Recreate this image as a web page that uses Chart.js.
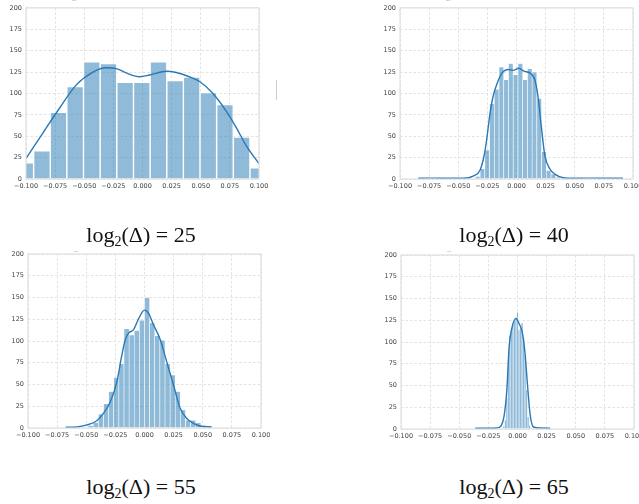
<!DOCTYPE html>
<html>
<head>
<meta charset="utf-8">
<script src="https://cdn.jsdelivr.net/npm/chart.js@4.4.1/dist/chart.umd.min.js"></script>
<style>
  body { margin: 0; width: 639px; height: 504px; background: #fff; overflow: hidden; position: relative; }
  canvas { position: absolute; }
  .lbl { position: absolute; width: 240px; text-align: center; font-family: "Liberation Serif", "DejaVu Serif", serif; font-size: 22px; color: #111; white-space: nowrap; }
  .lbl sub { font-size: 14px; vertical-align: -4px; line-height: 0; }
  .dash { position: absolute; font: 6px "DejaVu Sans"; color: #999; }
  .stub { position: absolute; left: 276px; top: 80px; width: 1px; height: 20px; background: #ccc; }
</style>
</head>
<body>
<canvas id="c25"></canvas>
<canvas id="c40"></canvas>
<canvas id="c55"></canvas>
<canvas id="c65"></canvas>
<div class="stub"></div>
<div class="dash" style="left:72px; top:-4px;">--</div>
<div class="dash" style="left:446px; top:-4px;">--</div>
<div class="dash" style="left:74px; top:247px;">--</div>
<div class="dash" style="left:447px; top:247px;">--</div>
<div class="lbl" id="l25" style="left:21px; top:222px;">log<sub>2</sub>(Δ) = 25</div>
<div class="lbl" id="l40" style="left:394px; top:222px;">log<sub>2</sub>(Δ) = 40</div>
<div class="lbl" id="l55" style="left:21px; top:474px;">log<sub>2</sub>(Δ) = 55</div>
<div class="lbl" id="l65" style="left:394px; top:474px;">log<sub>2</sub>(Δ) = 65</div>
<script>
// tick labels shared by all four panels
const xTicks = [-0.1, -0.075, -0.05, -0.025, 0, 0.025, 0.05, 0.075, 0.1];
const yTicks = [0, 25, 50, 75, 100, 125, 150, 175, 200];

// log2(delta) = 25
const bins25 = [-0.1006, -0.0863, -0.0721, -0.0578, -0.0435, -0.0292, -0.0149, -0.0006, 0.0137, 0.0280, 0.0422, 0.0565, 0.0708, 0.0851, 0.0994];
const counts25 = [19, 33, 78, 108, 137, 135, 113, 113, 137, 115, 119, 101, 87, 49, 13];
const kdeX25 = [-0.1, -0.0854, -0.0711, -0.0568, -0.0425, -0.031, -0.0225, -0.014, -0.0024, 0.006, 0.0205, 0.029, 0.040, 0.049, 0.0605, 0.072, 0.0805, 0.089, 0.1];
const kdeY25 = [24, 54, 83, 110, 125, 130, 129, 124, 119.5, 121.5, 126, 124.5, 119.5, 114, 100, 79, 60, 39, 18];

// log2(delta) = 40
const bins40 = [-0.0333, -0.0292, -0.0252, -0.0211, -0.0170, -0.0130, -0.0089, -0.0049, -0.0008, 0.0033, 0.0073, 0.0114, 0.0154, 0.0195, 0.0236, 0.0276, 0.0317, 0.0357];
const counts40 = [3, 12, 34, 88, 105, 131, 116, 135, 122, 135, 116, 129, 125, 94, 32, 10, 6, 2];
const kdeX40 = [-0.0843, -0.0743, -0.06, -0.0457, -0.0371, -0.0314, -0.028, -0.0257, -0.0229, -0.02, -0.0171, -0.0129, -0.0071, -0.0029, 0.002, 0.0063, 0.0114, 0.0157, 0.0186, 0.0214, 0.0243, 0.0286, 0.0329, 0.04, 0.0486, 0.0629, 0.0771, 0.0914];
const kdeY40 = [0.8, 1, 0.8, 0.8, 3.4, 10, 26, 45, 75, 97, 110, 123, 128, 127, 129.5, 126, 124, 116, 95, 60, 27.6, 12, 5.7, 1.5, 0.8, 1, 0.8, 0.8];

// log2(delta) = 55
const bins55 = [-0.0462, -0.0418, -0.0374, -0.0330, -0.0286, -0.0242, -0.0198, -0.0154, -0.0110, -0.0066, -0.0022, 0.0022, 0.0066, 0.0110, 0.0154, 0.0198, 0.0242, 0.0286, 0.0330, 0.0374, 0.0418, 0.0462, 0.0506, 0.0550];
const counts55 = [3, 6, 16, 28, 42, 58, 74, 114, 107, 112, 124, 150, 121, 106, 101, 74, 61, 42, 21, 9, 9, 6, 3, 2];
const kdeX55 = [-0.0677, -0.058, -0.0494, -0.0409, -0.0351, -0.0294, -0.0237, -0.0194, -0.0166, -0.0137, -0.0094, -0.0051, 0.0, 0.0034, 0.0077, 0.0134, 0.0191, 0.0249, 0.0306, 0.0363, 0.042, 0.0477, 0.0577];
const kdeY55 = [0.8, 1.2, 3.5, 8.4, 17, 30, 53, 84, 101, 109, 113, 125.5, 135.5, 132, 118.6, 102, 76, 49.5, 22.6, 11, 5.4, 2.3, 1.2];

// log2(delta) = 65
const bins65 = [-0.0117, -0.0104, -0.0091, -0.0078, -0.0065, -0.0052, -0.0039, -0.0026, -0.0013, 0.0, 0.0013, 0.0026, 0.0039, 0.0052, 0.0065, 0.0078, 0.0091, 0.0104];
const counts65 = [3, 10, 35, 80, 107, 112, 120, 124, 128, 134, 114, 118, 122, 105, 85, 45, 14, 4];
const kdeX65 = [-0.0363, -0.0263, -0.0177, -0.014, -0.0114, -0.0091, -0.0071, -0.0049, -0.0014, 0.0014, 0.0043, 0.0066, 0.0086, 0.0109, 0.0137, 0.0194, 0.028];
const kdeY65 = [0.8, 0.8, 1.2, 4, 16, 46, 96, 115.5, 127, 121, 110, 85, 50, 16, 2.3, 1.2, 0.8];

const fmt = v => {
  const s = Math.abs(v).toFixed(3);
  return v < -1e-9 ? '\u2212' + s : s;
};

// grey frame around each plot area
const framePlugin = {
  id: 'frame',
  afterDraw(chart) {
    const a = chart.chartArea, ctx = chart.ctx;
    ctx.save();
    ctx.strokeStyle = '#e0e0e0';
    ctx.lineWidth = 1.2;
    ctx.strokeRect(a.left, a.top, a.right - a.left, a.bottom - a.top);
    ctx.restore();
  }
};

function makePanel(id, box, bins, counts, kx, ky, barBorder) {
  const cv = document.getElementById(id);
  cv.style.left = box.x + 'px';
  cv.style.top = box.y + 'px';
  cv.width = box.w;
  cv.height = box.h;
  cv.style.width = box.w + 'px';
  cv.style.height = box.h + 'px';

  new Chart(cv.getContext('2d'), {
    type: 'bar',
    data: {
      datasets: [
        {
          type: 'line',
          data: kx.map((x, i) => ({ x, y: ky[i] })),
          borderColor: '#2a78b5',
          borderWidth: 1.4,
          pointRadius: 0,
          cubicInterpolationMode: 'monotone',
          fill: false,
          clip: 0,
          order: 0
        },
        {
          data: bins.map((x, i) => ({ x, y: counts[i] })),
          backgroundColor: 'rgba(31,119,180,0.5)',
          borderColor: '#ffffff',
          borderWidth: barBorder,
          borderSkipped: 'bottom',
          barPercentage: 1,
          categoryPercentage: 1,
          clip: 0,
          order: 1
        }
      ]
    },
    options: {
      responsive: false,
      animation: false,
      events: [],
      layout: { padding: { left: 0, right: box.pr, top: box.pt, bottom: 0 } },
      plugins: { legend: { display: false }, tooltip: { enabled: false } },
      scales: {
        x: {
          type: 'linear',
          min: -0.1,
          max: 0.1,
          offset: false,
          afterBuildTicks: s => { s.ticks = xTicks.map(v => ({ value: v })); },
          afterFit: s => { s.height = box.xh; },
          grid: { color: '#e2e2e2', lineWidth: 1, drawTicks: false, offset: false },
          border: { display: false, dash: [2.5, 2] },
          ticks: {
            padding: 3,
            color: '#444',
            maxRotation: 0,
            autoSkip: false,
            font: { family: 'DejaVu Sans', size: 6.5 },
            callback: v => fmt(v)
          }
        },
        y: {
          min: 0,
          max: 200,
          afterBuildTicks: s => { s.ticks = yTicks.map(v => ({ value: v })); },
          afterFit: s => { s.width = box.yw; },
          grid: { color: '#e2e2e2', lineWidth: 1, drawTicks: false },
          border: { display: false, dash: [2.5, 2] },
          ticks: {
            padding: 4,
            color: '#444',
            font: { family: 'DejaVu Sans', size: 6.5 },
            callback: v => String(v)
          }
        }
      }
    },
    plugins: [framePlugin]
  });
}

makePanel('c25', { x: 0, y: 0, w: 280, h: 200, yw: 26, pr: 21, pt: 5, xh: 21 }, bins25, counts25, kdeX25, kdeY25, 1);
makePanel('c40', { x: 320, y: 0, w: 330, h: 200, yw: 80, pr: 17, pt: 5, xh: 21 }, bins40, counts40, kdeX40, kdeY40, 0.6);
makePanel('c55', { x: 0, y: 245, w: 280, h: 200, yw: 28, pr: 19, pt: 9, xh: 17 }, bins55, counts55, kdeX55, kdeY55, 0.6);
makePanel('c65', { x: 320, y: 245, w: 330, h: 200, yw: 81, pr: 16, pt: 10, xh: 16 }, bins65, counts65, kdeX65, kdeY65, 0.4);
</script>
</body>
</html>
